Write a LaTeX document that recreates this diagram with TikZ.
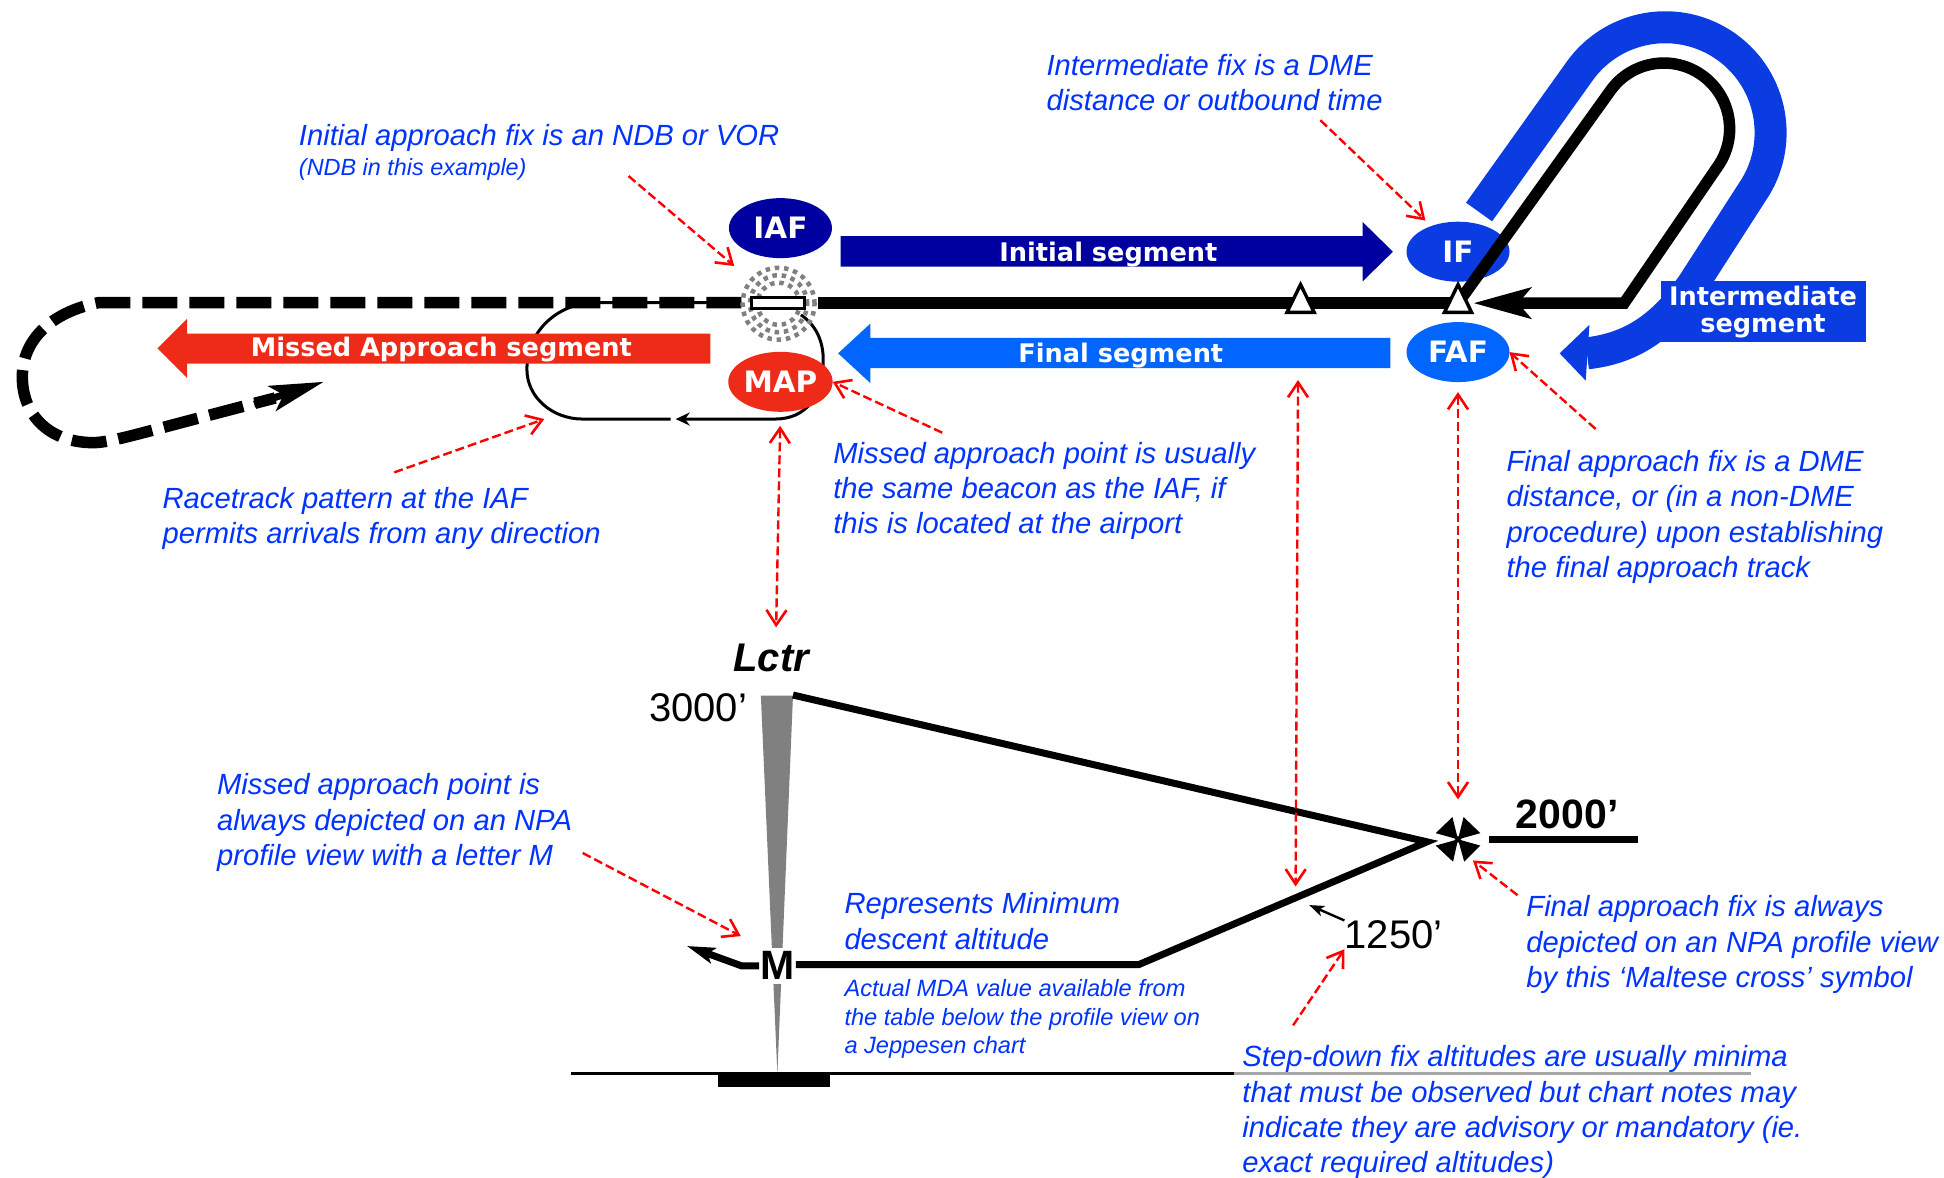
\documentclass[tikz,border=0pt]{standalone}
\usepackage{fontspec}
\setmainfont{Liberation Sans}
\newfontfamily\segfont{DejaVu Sans}
\usetikzlibrary{positioning}
\usetikzlibrary{arrows.meta}
\usetikzlibrary{shapes.geometric}

\definecolor{navyfix}{RGB}{0,0,160}
\definecolor{ifblue}{RGB}{10,60,226}
\definecolor{fafblue}{RGB}{0,102,255}
\definecolor{mapred}{RGB}{238,42,24}
\definecolor{noteblue}{RGB}{0,51,255}

\tikzset{
  fixnode/.style={ellipse, minimum width=103pt, minimum height=60pt, inner sep=0pt, outer sep=0pt,
    text=white, font=\segfont\bfseries\fontsize{29.5}{30}\selectfont},
  seglabel/.style={inner sep=0pt, text=white, align=center, font=\segfont\bfseries\fontsize{25.6}{26.7}\selectfont},
  note/.style={anchor=west, inner sep=0pt, align=left, text=noteblue, font=\itshape\fontsize{29.2}{35.3}\selectfont},
  smallnote/.style={anchor=west, inner sep=0pt, align=left, text=noteblue, font=\itshape\fontsize{23.6}{28.3}\selectfont},
  altlabel/.style={inner sep=0pt, font=\fontsize{40}{44}\selectfont},
  redptr/.style={draw=red, line width=2.4pt, dash pattern=on 9pt off 4pt, -{Straight Barb[length=15pt,width=20pt,line width=2.6pt]}},
  redboth/.style={redptr, {Straight Barb[length=15pt,width=20pt,line width=2.6pt]}-{Straight Barb[length=15pt,width=20pt,line width=2.6pt]}},
  track/.style={draw=black, line width=11.5pt},
  profile/.style={draw=black, line width=7pt},
  thinline/.style={draw=black, line width=3pt}
}

\begin{document}
\begin{tikzpicture}[x=1.2398pt, y=-1.2398pt]
\useasboundingbox (0,0) rectangle (1568,950);

% plan view
\coordinate (fixmark) at (1176,244.5);
\coordinate (trackcorner) at (1310,244.5);

\node (iaf) [fixnode, fill=navyfix] at (629.5,184) {IAF};
\node (ifix) [fixnode, fill=ifblue] at (1176,203) {IF};
\node (faf) [fixnode, fill=fafblue, below=40.4pt of ifix] {FAF};

% racetrack
\draw[thinline] (598,244) -- (475,244) .. controls (445,248) and (425,270) .. (425,298)
  .. controls (425,320) and (445,338) .. (470,338) -- (541,338);
\draw[thinline, -{Stealth[length=14pt,width=13pt]}] (646,254) .. controls (658,262) and (664,275) .. (664,290)
  .. controls (664,320) and (650,338) .. (625,338) -- (545,338);

\node (map) [fixnode, fill=mapred, below=93.7pt of iaf] {MAP};

% segment arrows
\fill[navyfix] (678,190.5) -- (1099,190.5) -- (1099,179) -- (1123.5,203) -- (1099,227) -- (1099,215) -- (678,215) -- cycle;
\fill[fafblue] (1121.5,272.5) -- (702,272.5) -- (702,261) -- (676,285) -- (702,309) -- (702,297) -- (1121.5,297) -- cycle;
\fill[mapred] (573,269) -- (151,269) -- (151,257) -- (127,281) -- (151,305) -- (151,293.3) -- (573,293.3) -- cycle;
\node (initseg) [seglabel] at (894,205) {Initial segment};
\node (finalseg) [seglabel] at (904,286.5) {Final segment};
\node (missedseg) [seglabel] at (356,282) {Missed Approach segment};

% intermediate band
\draw[ifblue, line width=32pt] (1193,171) -- (1274,57.5) arc[start angle=144.4, end angle=-34.5, radius=105.4pt]
  -- (1365,230) .. controls (1340,265) and (1315,281) .. (1280,285);
\fill[ifblue] (1258,285) -- (1282,262) -- (1279,307) -- cycle;
\fill[ifblue] (1340,226.5) rectangle (1505,275.5);
\node (interseg) [seglabel] at (1422,251.5) {Intermediate\\segment};

% holding pattern and inbound track
\draw[track, -{Stealth[length=57pt,width=30pt,inset=12pt]}] (fixmark) -- (1299,73) arc[start angle=144.4, end angle=-34.5, radius=65.7pt]
  -- (trackcorner) -- (1188,244.5);

% outbound dashes
\draw[draw=black, line width=11.5pt, dash pattern=on 35pt off 12pt] (598,244) -- (80,244)
  .. controls (40,252) and (18,275) .. (18,304) .. controls (18,335) and (40,357) .. (75,357)
  .. controls (90,357) and (110,350) .. (222,321);
\draw[draw=black, line width=7pt, -{Stealth[length=54pt,width=26pt,inset=12pt]}] (205,326) -- (261,308);

% beacon
\foreach \ringr in {17,23,29}
  \draw[draw=gray, line width=4.5pt, dash pattern=on 4.5pt off 4.8pt] (628,245) circle[radius=\ringr*1.2398pt];
\node (beacon) [circle, minimum size=74pt, inner sep=0pt] at (628,245) {};
\draw[track] (660,244.5) -- (fixmark);
\node (runway) [draw=black, fill=white, line width=3pt, minimum width=53pt, minimum height=11pt, inner sep=0pt] at (627.5,244) {};

% fix marks
\foreach \fx in {1049,1176}
  \draw[draw=black, fill=white, line width=3.4pt] (\fx,229.5) -- (\fx+11,252) -- (\fx-11,252) -- cycle;

% notes
\node (iafnote) [note] at (241,123) {Initial approach fix is an NDB or VOR\\[-5pt]{\fontsize{23.4}{25}\selectfont (NDB in this example)}};
\node (ifnote) [note] at (844,66.5) {Intermediate fix is a DME\\distance or outbound time};
\node (racenote) [note] at (131,418) {Racetrack pattern at the IAF\\permits arrivals from any direction};
\node (mapnote) [note] at (672,396) {Missed approach point is usually\\the same beacon as the IAF, if\\this is located at the airport};
\node (fafnote) [note] at (1215,417) {Final approach fix is a DME\\distance, or (in a non-DME\\procedure) upon establishing\\the final approach track};

\coordinate (iaftail) at (507,142);
\coordinate (iftail) at (1065,97);
\coordinate (faftail) at (1287,346);
\coordinate (racetail) at (318,381);
\coordinate (racetip) at (439,338);
\coordinate (maptail) at (760,349);
\draw[redptr, shorten >=21pt] (iaftail) -- (beacon);
\draw[redptr, shorten >=8pt] (iftail) -- (ifix);
\draw[redptr] (faftail) -- (faf.east);
\draw[redptr] (racetail) -- (racetip);
\draw[redptr] (maptail) -- (map.east);

% profile view
\coordinate (maltese) at (1176,677);
\coordinate (stepfix) at (918.5,778);
\coordinate (stepsign) at (1056,730);

\fill[gray] (613.7,561) -- (639.6,561) -- (627,866) -- cycle;
\draw[profile] (639.6,560.6) -- (1151,679) -- (stepfix) -- (642,778);

\node (lctr) [altlabel, font=\bfseries\itshape\fontsize{40}{44}\selectfont] at (622,531) {Lctr};
\node (alt3000) [altlabel] at (563,571) {3000’};
\node (alt1250) [altlabel] at (1124,754) {1250’};
\node (alt2000) [altlabel, font=\bfseries\fontsize{41}{44}\selectfont] at (1264,657) {2000’};
\node (mdaletter) [fill=white, inner xsep=1pt, inner ysep=4pt, font=\bfseries\fontsize{41}{44}\selectfont] at (627,779) {M};

\draw[draw=black, line width=7pt, -{Stealth[length=28pt,width=16pt,inset=6pt]}] (mdaletter.west) -- (598,779) -- (554,763);

% maltese cross
\fill[black, shift={(maltese)}] (0,0) -- (-18,-5) -- (-4.5,-18) -- cycle (0,0) -- (4.5,-18) -- (18,-5) -- cycle
  (0,0) -- (-18,5) -- (-4,18) -- cycle (0,0) -- (5,18) -- (18,5) -- cycle;
\draw[draw=black, line width=3.5pt, shift={(maltese)}] (-9,-9) -- (9,9) (-9,9) -- (9,-9);
\draw[profile] (1201,677.5) -- (1321,677.5);

% ground
\draw[draw=black!35, line width=3pt] (995,866) -- (1412,866);
\draw[thinline] (460.5,866) -- (995,866);
\fill[black] (579,867) rectangle (669.5,876.5);

% notes in the profile
\node (mnote) [note] at (175,663.5) {Missed approach point is\\always depicted on an NPA\\profile view with a letter M};
\node (mdanote) [note] at (681,743) {Represents Minimum\\descent altitude};
\node (mdasmall) [smallnote] at (681,822) {Actual MDA value available from\\the table below the profile view on\\a Jeppesen chart};
\node (crossnote) [note] at (1231,762) {Final approach fix is always\\depicted on an NPA profile view\\by this ‘Maltese cross’ symbol};
\node (stepnote) [note] at (1002,897) {Step-down fix altitudes are usually minima\\that must be observed but chart notes may\\indicate they are advisory or mandatory (ie.\\exact required altitudes)};

\coordinate (lctrtop) at (626,506);
\coordinate (segdrop) at (1047,306.5);
\coordinate (pathhit) at (1045,715);
\coordinate (mtail) at (470,688);
\coordinate (mtip) at (597.5,755);
\coordinate (crosstail) at (1224,722);
\coordinate (crosstip) at (1188,694);
\coordinate (steptail) at (1043,827);
\draw[redboth, shorten <=14pt] (map.south) -- (lctrtop);
\draw[redboth] (segdrop) -- (pathhit);
\draw[redboth, shorten <=10pt, shorten >=40pt] (faf.south) -- (maltese);
\draw[redptr] (mtail) -- (mtip);
\draw[redptr] (crosstail) -- (crosstip);
\draw[redptr] (steptail) -- (alt1250.south west);
\draw[draw=black, line width=2.4pt, -{Stealth[length=15pt,width=11pt,inset=4pt]}] (alt1250.north west) -- (stepsign);

\end{tikzpicture}
\end{document}
